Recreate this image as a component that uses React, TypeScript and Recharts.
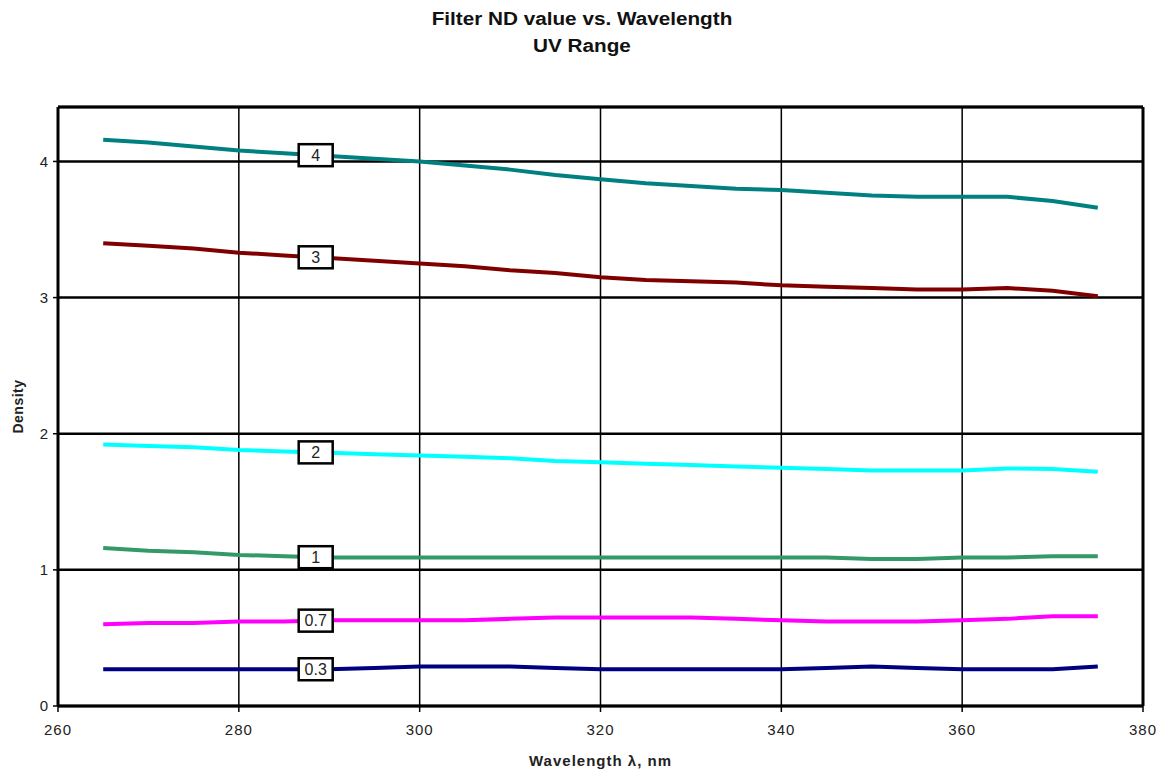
import {
  CartesianGrid,
  Label,
  Line,
  LineChart,
  ReferenceDot,
  ReferenceLine,
  XAxis,
  YAxis,
} from "recharts";

const wavelengths = [
  265, 270, 275, 280, 285, 290, 295, 300, 305, 310, 315, 320, 325, 330, 335, 340,
  345, 350, 355, 360, 365, 370, 375,
];

const nd4 = [
  4.16, 4.14, 4.11, 4.08, 4.06, 4.04, 4.02, 4.0, 3.97, 3.94, 3.9, 3.87, 3.84, 3.82,
  3.8, 3.79, 3.77, 3.75, 3.74, 3.74, 3.74, 3.71, 3.66,
];
const nd3 = [
  3.4, 3.38, 3.36, 3.33, 3.31, 3.29, 3.27, 3.25, 3.23, 3.2, 3.18, 3.15, 3.13, 3.12,
  3.11, 3.09, 3.08, 3.07, 3.06, 3.06, 3.07, 3.05, 3.01,
];
const nd2 = [
  1.92, 1.91, 1.9, 1.88, 1.87, 1.86, 1.85, 1.84, 1.83, 1.82, 1.8, 1.79, 1.78, 1.77,
  1.76, 1.75, 1.74, 1.73, 1.73, 1.73, 1.745, 1.74, 1.72,
];
const nd1 = [
  1.16, 1.14, 1.13, 1.11, 1.1, 1.09, 1.09, 1.09, 1.09, 1.09, 1.09, 1.09, 1.09, 1.09,
  1.09, 1.09, 1.09, 1.08, 1.08, 1.09, 1.09, 1.1, 1.1,
];
const nd07 = [
  0.6, 0.61, 0.61, 0.62, 0.62, 0.63, 0.63, 0.63, 0.63, 0.64, 0.65, 0.65, 0.65, 0.65,
  0.64, 0.63, 0.62, 0.62, 0.62, 0.63, 0.64, 0.66, 0.66,
];
const nd03 = [
  0.27, 0.27, 0.27, 0.27, 0.27, 0.27, 0.28, 0.29, 0.29, 0.29, 0.28, 0.27, 0.27, 0.27,
  0.27, 0.27, 0.28, 0.29, 0.28, 0.27, 0.27, 0.27, 0.29,
];

const xTicks = [260, 280, 300, 320, 340, 360, 380];
const yTicks = [0, 1, 2, 3, 4];
const labelX = 288.5;

const series = [
  { key: "nd4", label: "4", color: "#008080", values: nd4 },
  { key: "nd3", label: "3", color: "#800000", values: nd3 },
  { key: "nd2", label: "2", color: "#00FFFF", values: nd2 },
  { key: "nd1", label: "1", color: "#339966", values: nd1 },
  { key: "nd07", label: "0.7", color: "#FF00FF", values: nd07 },
  { key: "nd03", label: "0.3", color: "#000080", values: nd03 },
];

const rows = wavelengths.map((w, i) => {
  const row: Record<string, number> = { w };
  series.forEach((s) => (row[s.key] = s.values[i]));
  return row;
});

// value of a series at the tag position
function valueAt(values: number[], x: number) {
  for (let i = 0; i < wavelengths.length - 1; i++) {
    const a = wavelengths[i];
    const b = wavelengths[i + 1];
    if (x >= a && x <= b) {
      const t = (x - a) / (b - a);
      return values[i] + (values[i + 1] - values[i]) * t;
    }
  }
  return values[0];
}

const font = "'Liberation Sans', Arial, sans-serif";

function TagBox(props: any) {
  const { cx, cy, text } = props;
  return (
    <g>
      <rect x={cx - 17} y={cy - 11} width={34} height={22} fill="#fff" stroke="#000" strokeWidth={2.5} />
      <text
        x={cx}
        y={cy + 5.5}
        textAnchor="middle"
        fontSize={16}
        fontFamily={font}
        fill="#222"
      >
        {text}
      </text>
    </g>
  );
}

export default function App() {
  return (
    <div style={{ position: "relative", width: 1156, height: 763, fontFamily: font }}>
      <div
        style={{
          position: "absolute",
          left: 0,
          top: -2,
          width: 1148,
          textAlign: "center",
          fontWeight: "bold",
          fontSize: 18,
          lineHeight: "27px",
          color: "#111",
          transform: "scaleX(1.15)",
        }}
      >
        <div>Filter ND value vs. Wavelength</div>
        <div>UV Range</div>
      </div>
      <LineChart
        width={1156}
        height={763}
        data={rows}
        margin={{ top: 99, right: 21, bottom: 5, left: 10 }}
      >
        <CartesianGrid horizontal={false} stroke="#000" strokeWidth={1.5} />
        <CartesianGrid vertical={false} stroke="#000" strokeWidth={2.5} />
        <XAxis
          dataKey="w"
          type="number"
          domain={[260, 380]}
          ticks={xTicks}
          height={60}
          tickSize={6}
          tickMargin={12}
          axisLine={{ stroke: "#000", strokeWidth: 3 }}
          tickLine={{ stroke: "#000", strokeWidth: 1.5 }}
          tick={{ fontSize: 15, fill: "#222", fontFamily: font, letterSpacing: 1 }}
        >
          <Label
            value="Wavelength λ, nm"
            position="insideBottom"
            offset={0}
            style={{
              fontSize: 15,
              fontWeight: "bold",
              fill: "#222",
              fontFamily: font,
              letterSpacing: 1,
            }}
          />
        </XAxis>
        <YAxis
          type="number"
          domain={[0, 4.4]}
          ticks={yTicks}
          width={40}
          tickSize={5}
          tickMargin={5}
          axisLine={{ stroke: "#000", strokeWidth: 3 }}
          tickLine={{ stroke: "#000", strokeWidth: 1.5 }}
          tick={{ fontSize: 15, fill: "#222", fontFamily: font }}
        >
          <Label
            value="Density"
            angle={-90}
            position="insideLeft"
            offset={0}
            style={{
              fontSize: 14,
              fontWeight: "bold",
              fill: "#222",
              fontFamily: font,
              textAnchor: "middle",
              letterSpacing: 0.5,
            }}
          />
        </YAxis>
        <ReferenceLine y={4.4} stroke="#000" strokeWidth={3} />
        <ReferenceLine x={380} stroke="#000" strokeWidth={3} />
        {series.map((s) => (
          <Line
            key={s.key}
            dataKey={s.key}
            type="linear"
            stroke={s.color}
            strokeWidth={4}
            dot={false}
            activeDot={false}
            isAnimationActive={false}
          />
        ))}
        {series.map((s) => (
          <ReferenceDot
            key={"tag-" + s.key}
            x={labelX}
            y={valueAt(s.values, labelX)}
            r={1}
            shape={(p: any) => <TagBox {...p} text={s.label} />}
          />
        ))}
      </LineChart>
    </div>
  );
}
